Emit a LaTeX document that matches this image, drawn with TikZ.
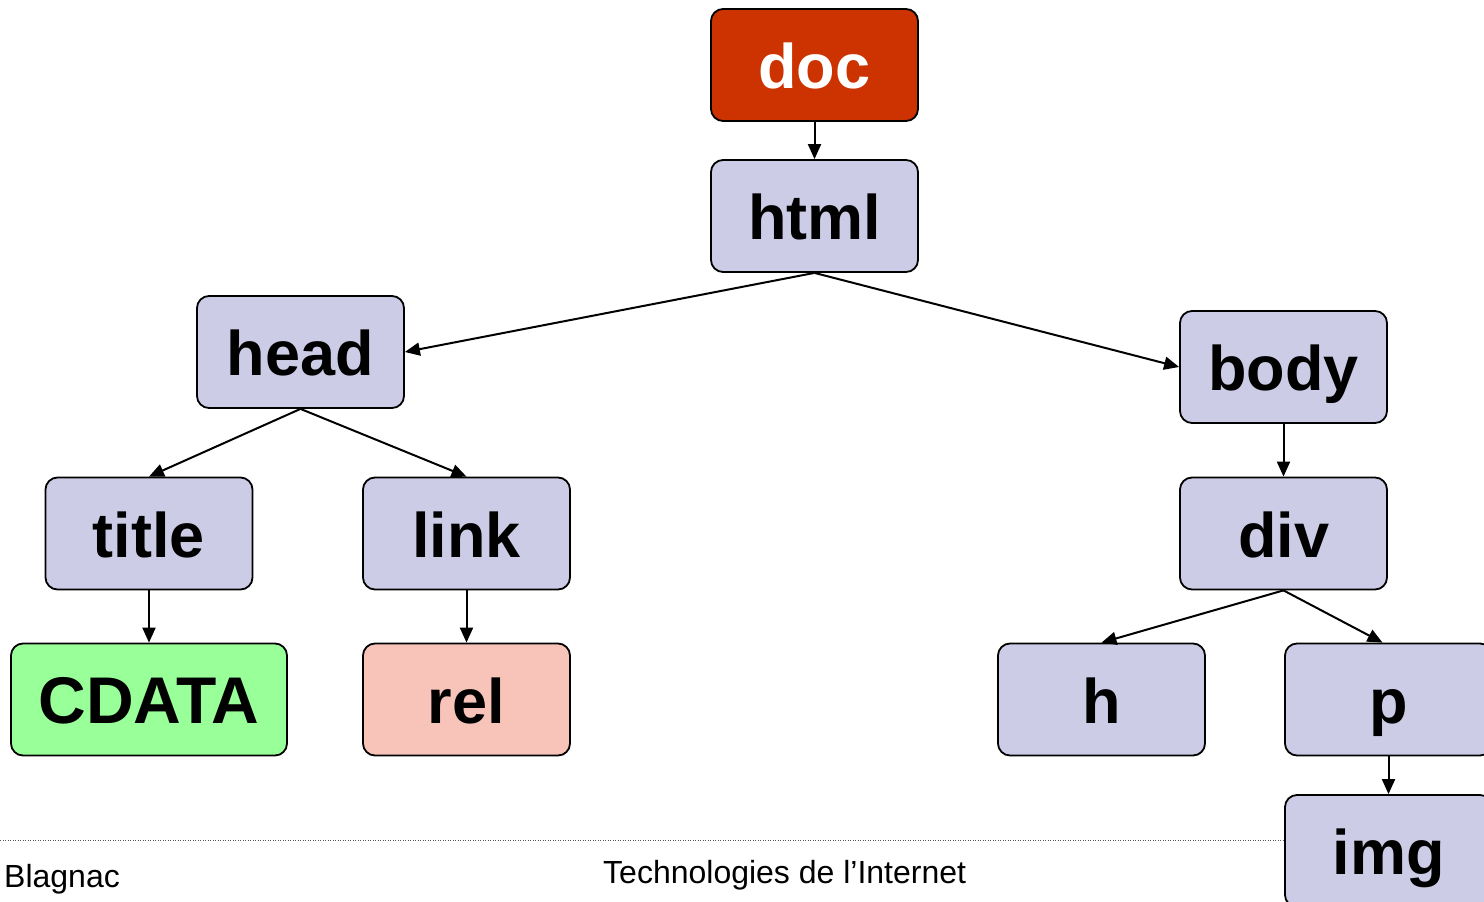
\documentclass[tikz,border=0pt]{standalone}
\usepackage{fontspec}
\setmainfont{Liberation Sans}
\usetikzlibrary{arrows.meta}
\definecolor{docred}{HTML}{CC3300}
\definecolor{elemfill}{HTML}{CCCCE6}
\definecolor{textfill}{HTML}{99FF99}
\definecolor{attrfill}{HTML}{F8C4BA}
\definecolor{rulegray}{HTML}{555555}
\tikzset{
  elem/.style={draw=black, line width=1.8pt, rounded corners=12pt, fill=elemfill,
    minimum width=207pt, minimum height=112pt, inner sep=0pt,
    text height=47pt, text depth=0pt,
    font=\fontsize{63}{70}\selectfont\bfseries},
  link/.style={draw=black, line width=2pt, -{Triangle[length=15pt,width=13pt]}},
  foot/.style={anchor=base west, inner sep=0pt, font=\fontsize{32}{36}\selectfont}
}
\begin{document}
\begin{tikzpicture}[x=1pt,y=-1pt]
\useasboundingbox (0,0) rectangle (1484,902);
\clip (0,0) rectangle (1484,902);

% footer rule
\draw[rulegray, line width=1pt, dash pattern=on 1pt off 1.5pt] (0,840) -- (1285,840);

% document tree
\node[elem, fill=docred, text=white] (doc)   at (814.5,65)    {doc};
\node[elem] (html)  at (814.5,216)   {html};
\node[elem] (head)  at (300.5,352)   {head};
\node[elem] (body)  at (1283.5,367)  {body};
\node[elem] (title) at (149,533.5)   {title};
\node[elem] (lnk)   at (466.5,533.5) {link};
\node[elem] (div)   at (1283.5,533.5){div};
\node[elem, fill=textfill, minimum width=276pt, font=\fontsize{66}{72}\selectfont\bfseries] (cdata) at (149,699.5) {CDATA};
\node[elem, fill=attrfill] (rel) at (466.5,699.5) {rel};
\node[elem] (h)     at (1101.5,699.5){h};
\node[elem] (p)     at (1388.5,699.5){p};
\node[elem] (img)   at (1388.5,851)  {img};

\draw[link] (doc.south) -- (html.north);
\draw[link] (html.south) -- (head.east);
\draw[link] (html.south) -- (body.west);
\draw[link] (head.south) -- (title.north);
\draw[link] (head.south) -- (lnk.north);
\draw[link] (title.south) -- (cdata.north);
\draw[link] (lnk.south) -- (rel.north);
\draw[link] (body.south) -- (div.north);
\draw[link] (div.south) -- (h.north);
\draw[link] (div.south) -- ([xshift=-6pt]p.north);
\draw[link] (p.south) -- (img.north);

% footer texts
\node[foot] (place) at (4,887)   {Blagnac};
\node[foot] (course) at (603,883) {Technologies de l’Internet};
\end{tikzpicture}
\end{document}
